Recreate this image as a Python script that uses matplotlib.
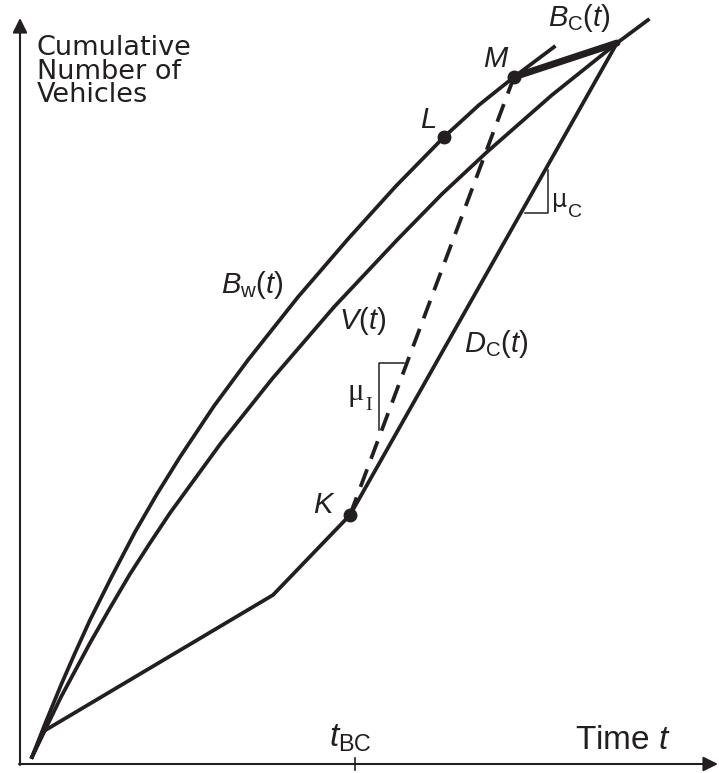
import matplotlib
matplotlib.use("Agg")
import matplotlib.pyplot as plt

# schematic cumulative vehicle curves (units: arbitrary, origin at axis corner)
bw_t = [12, 25, 41, 55, 70, 92, 115, 137, 160, 194, 228, 278, 328, 376, 424, 459, 494, 514, 534]
bw_n = [7, 40, 79, 111, 144, 188, 232, 270, 307, 358, 404, 467, 525, 578, 627, 659, 687, 702, 717]

v_t = [12, 26, 41, 70, 90, 110, 130, 150, 201, 252, 314, 377, 422, 467, 532, 597, 628]
v_n = [7, 36, 67, 121, 156, 190, 221, 251, 321, 385, 457, 524, 570, 612, 669, 721, 744]

dc_t = [12, 24, 253, 330, 597]
dc_n = [7, 33, 169, 249, 721]

bc_t = [494, 597]
bc_n = [687, 721]

# dashed line K -> M
dash_t = [330, 494]
dash_n = [249, 687]

pt_names = ["K", "L", "M"]
pt_t = [330, 424, 494]
pt_n = [249, 627, 687]

t_bc = 335

plt.rcParams['mathtext.fontset'] = 'custom'
plt.rcParams['mathtext.rm'] = 'Liberation Sans'
plt.rcParams['mathtext.it'] = 'Liberation Sans:italic'
plt.rcParams['mathtext.bf'] = 'Liberation Sans:bold'

ink = '#231f20'

fig = plt.figure(figsize=(7.19, 7.73), dpi=100)
ax = fig.add_axes([0, 0, 1, 1])
ax.set_xlim(-20, 699)
ax.set_ylim(-9, 764)
ax.axis('off')

# axes with arrows
ax.annotate('', xy=(698, 0), xytext=(-1, 0),
            arrowprops=dict(arrowstyle='-|>', lw=1.5, color=ink, mutation_scale=22, shrinkA=0, shrinkB=0))
ax.annotate('', xy=(0, 746), xytext=(0, -1),
            arrowprops=dict(arrowstyle='-|>', lw=1.5, color=ink, mutation_scale=22, shrinkA=0, shrinkB=0))
ax.plot([t_bc, t_bc], [-6, 6], color=ink, lw=1.2)

lw = 2.7
ax.plot(bw_t, bw_n, color=ink, lw=lw, solid_joinstyle='round')
ax.plot(v_t, v_n, color=ink, lw=lw, solid_joinstyle='round')
ax.plot(dc_t, dc_n, color=ink, lw=lw, solid_joinstyle='round')
ax.plot(bc_t, bc_n, color=ink, lw=5, solid_capstyle='round')
ax.plot(dash_t, dash_n, color=ink, lw=lw, linestyle=(0, (5, 3)))
ax.plot(pt_t, pt_n, 'o', color=ink, markersize=9, linestyle='none')

# slope triangles
ax.plot([359, 359, 384], [334, 401, 401], color=ink, lw=1.1)
ax.plot([528, 528, 505], [594, 551, 551], color=ink, lw=1.1)

lab = dict(fontsize=21, color=ink, va='baseline')
ax.text(201, 471, r'$\mathit{B}_{\mathrm{w}}\mathit{(t)}$', **lab)
ax.text(319, 435, r'$\mathit{V(t)}$', **lab)
ax.text(444, 412, r'$\mathit{D}_{\mathrm{C}}\mathit{(t)}$', **lab)
ax.text(528, 738, r'$\mathit{B}_{\mathrm{C}}\mathit{(t)}$', **lab)
ax.text(463, 697, 'M', fontstyle='italic', family='Liberation Sans', **lab)
ax.text(400, 636, 'L', fontstyle='italic', family='Liberation Sans', **lab)
ax.text(293, 251, 'K', fontstyle='italic', family='Liberation Sans', **lab)

ax.text(327, 364, 'μ', family='Liberation Serif', fontsize=22, color=ink, va='baseline')
ax.text(345, 354, 'I', family='Liberation Serif', fontsize=14, color=ink, va='baseline')
ax.text(532, 557, 'μ', family='DejaVu Sans', fontsize=17, color=ink, va='baseline')
ax.text(548, 547, 'C', family='Liberation Sans', fontsize=14, color=ink, va='baseline')

ax.text(330, 17, r'$\mathit{t}_{\mathrm{BC}}$', fontsize=24, color=ink, ha='center', va='baseline')
ax.text(555, 15, r'Time $\mathit{t}$', family='Liberation Sans', fontsize=24, color=ink, va='baseline')
ax.text(17, 729, 'Cumulative\nNumber of\nVehicles', family='DejaVu Sans', fontsize=19.5,
        color=ink, va='top', ha='left', linespacing=0.88)

fig.savefig('out.png', dpi=100)
